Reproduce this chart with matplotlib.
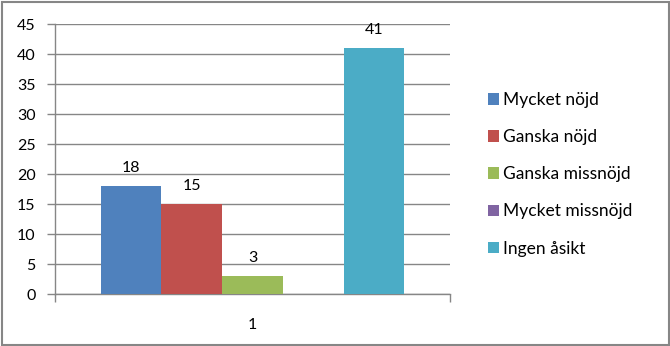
import matplotlib
matplotlib.use("Agg")
import matplotlib.pyplot as plt
from matplotlib.patches import Rectangle

categories = ["1"]
series_names = ["Mycket nöjd", "Ganska nöjd", "Ganska missnöjd", "Mycket missnöjd", "Ingen åsikt"]
series_values = [18, 15, 3, 0, 41]
series_colors = ["#4F81BD", "#C0504D", "#9BBB59", "#8064A2", "#4BACC6"]
y_ticks = [0, 5, 10, 15, 20, 25, 30, 35, 40, 45]

plt.rcParams['font.family'] = ['Lato', 'DejaVu Sans']

W, H = 670, 346
fig = plt.figure(figsize=(W / 100, H / 100), dpi=100)
fig.patches.append(Rectangle((1.5 / W, 1.5 / H), 1 - 3 / W, 1 - 3 / H, transform=fig.transFigure,
                             fill=False, edgecolor="#868686", linewidth=1.5))

ax = fig.add_axes([55 / W, 52 / H, (450 - 55) / W, (322 - 52) / H])

n = len(series_values)
w = 1 / (n + 1.5)
for i, (name, val, col) in enumerate(zip(series_names, series_values, series_colors)):
    x = 0.75 * w + (i + 0.5) * w
    ax.bar(x, val, width=w, color=col, label=name, zorder=3)
    if val != 0:
        ax.text(x, val + 1.8, str(val), ha="center", va="bottom", fontsize=11.5, color="black")

ax.set_xlim(0, 1)
ax.set_ylim(0, 45)
ax.set_yticks(y_ticks)
ax.yaxis.grid(True, color="#868686", linewidth=1)
ax.set_axisbelow(True)
ax.set_xticks([0, 1])
ax.set_xticklabels([])
ax.tick_params(axis="x", length=6, color="#868686", width=1)
ax.tick_params(axis="y", length=6, color="#868686", width=1, labelsize=11.5, pad=8)
ax.text(0.5, -0.115, categories[0], transform=ax.transAxes, ha="center", va="center", fontsize=11.5)
for s in ["top", "right"]:
    ax.spines[s].set_visible(False)
for s in ["left", "bottom"]:
    ax.spines[s].set_color("#868686")
    ax.spines[s].set_linewidth(1)

leg = fig.legend(loc="upper left", bbox_to_anchor=(481 / W, 1 - 85 / H), frameon=False,
                 fontsize=12.5, handlelength=0.65, handleheight=0.65, handletextpad=0.2,
                 labelspacing=1.22, borderaxespad=0)

fig.savefig("out.png", dpi=100)
